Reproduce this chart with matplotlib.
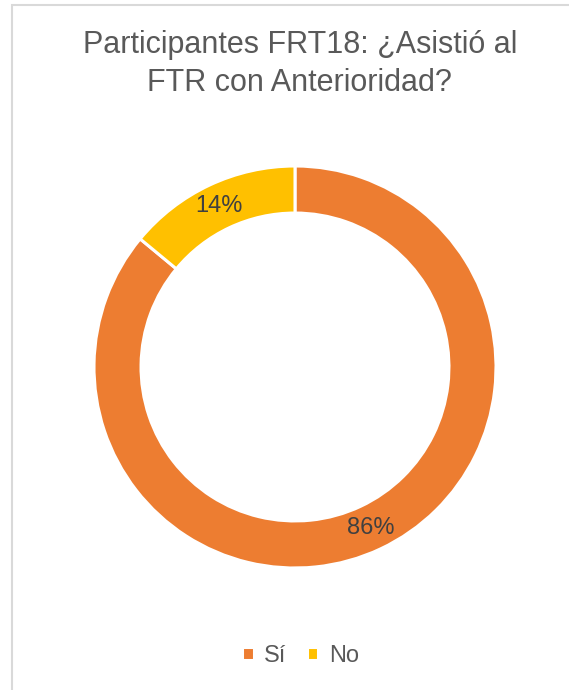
import matplotlib.pyplot as plt
from matplotlib.patches import Rectangle

# Datos
categorias = ['Sí', 'No']
valores = [86, 14]
colores = ['#ED7D31', '#FFC000']
titulo = 'Participantes FRT18: ¿Asistió al\nFTR con Anterioridad?'

plt.rcParams['font.family'] = ['Liberation Sans Narrow', 'Liberation Sans', 'DejaVu Sans']

W, H = 569, 690
fig = plt.figure(figsize=(W / 100, H / 100), dpi=100)

# marco del gráfico (solo se ven borde superior e izquierdo)
fig.patches.append(Rectangle((11.5 / W, -0.1), 1.2, (H - 5.5) / H + 0.1,
                             transform=fig.transFigure, fill=False,
                             edgecolor='#d9d9d9', linewidth=1.5))

# ejes del anillo
cx, cy, r = 295, 367, 201
ax = fig.add_axes([(cx - r) / W, (H - cy - r) / H, 2 * r / W, 2 * r / H])

wedges, texts, autotexts = ax.pie(
    valores, colors=colores, startangle=90, counterclock=False,
    radius=1, autopct='%1.0f%%', pctdistance=0.885,
    wedgeprops=dict(width=0.234, edgecolor='white', linewidth=2.2),
    textprops=dict(color='#404040', fontsize=17))
ax.set_xlim(-1, 1)
ax.set_ylim(-1, 1)
ax.set_aspect('equal')
ax.axis('off')

fig.text(0.527, (H - 64) / H, titulo, ha='center', va='center',
         fontsize=22, color='#595959', linespacing=1.32)

leg = fig.legend(wedges, categorias, loc='center', bbox_to_anchor=(0.528, (H - 656) / H),
                 ncol=2, frameon=False, fontsize=17, handlelength=0.5, handleheight=0.5,
                 handletextpad=0.45, columnspacing=0.85)
for t in leg.get_texts():
    t.set_color('#595959')

fig.savefig('out.png', dpi=100, facecolor='white')
